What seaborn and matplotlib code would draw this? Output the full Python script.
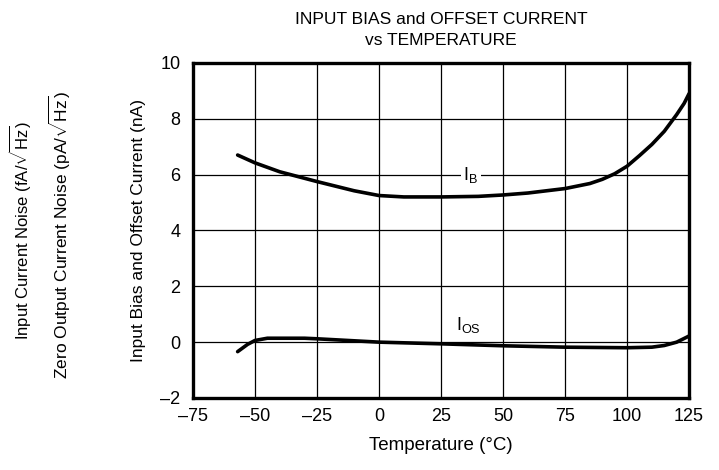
import numpy as np
import pandas as pd
import matplotlib
matplotlib.use("Agg")
import matplotlib.pyplot as plt
import seaborn as sns

# data
temp_ib = [-57, -50, -40, -25, -10, 0, 10, 25, 40, 50, 60, 75, 85, 90, 95, 100, 105, 110, 115, 120, 123, 125]
ib = [6.7, 6.42, 6.1, 5.75, 5.42, 5.25, 5.2, 5.2, 5.22, 5.27, 5.34, 5.5, 5.68, 5.83, 6.03, 6.3, 6.68, 7.08, 7.55, 8.15, 8.55, 8.9]
temp_ios = [-57, -53, -50, -45, -30, -25, 0, 25, 50, 75, 100, 110, 115, 120, 125]
ios = [-0.34, -0.08, 0.06, 0.14, 0.14, 0.12, 0.0, -0.06, -0.13, -0.18, -0.2, -0.18, -0.12, 0.0, 0.22]

xticks = [-75, -50, -25, 0, 25, 50, 75, 100, 125]
xtick_labels = ["\u201375", "\u201350", "\u201325", "0", "25", "50", "75", "100", "125"]
yticks = [-2, 0, 2, 4, 6, 8, 10]
ytick_labels = ["\u20132", "0", "2", "4", "6", "8", "10"]

sns.set_style("white")
plt.rcParams["font.family"] = ["Liberation Sans", "DejaVu Sans"]
plt.rcParams["text.color"] = "black"
plt.rcParams["axes.labelcolor"] = "black"
plt.rcParams["mathtext.fontset"] = "custom"
plt.rcParams["mathtext.rm"] = "Liberation Sans"
plt.rcParams["mathtext.it"] = "Liberation Sans:italic"

fig = plt.figure(figsize=(7.19, 4.70), dpi=100)
ax = fig.add_axes([0.2684, 0.1532, 0.69, 0.713])

df_ib = pd.DataFrame({"temp": temp_ib, "val": ib})
df_ios = pd.DataFrame({"temp": temp_ios, "val": ios})
sns.lineplot(data=df_ib, x="temp", y="val", color="black", lw=2.6, ax=ax, zorder=3)
sns.lineplot(data=df_ios, x="temp", y="val", color="black", lw=2.6, ax=ax, zorder=3)

ax.set_xlim(-75, 125)
ax.set_ylim(-2, 10)
ax.set_xticks(xticks)
ax.set_xticklabels(xtick_labels)
ax.set_yticks(yticks)
ax.set_yticklabels(ytick_labels)
ax.tick_params(length=0, labelsize=13, colors="black")
ax.tick_params(axis="x", pad=7)
ax.tick_params(axis="y", pad=9)
ax.grid(True, color="black", lw=0.9)
for s in ax.spines.values():
    s.set_visible(True)
    s.set_color("black")
    s.set_linewidth(2.4)

ax.set_xlabel("Temperature (\u00b0C)", fontsize=13.5, labelpad=9)
ax.set_ylabel("Input Bias and Offset Current (nA)", fontsize=12.5, labelpad=10)
ax.set_title("INPUT BIAS and OFFSET CURRENT\nvs TEMPERATURE", fontsize=12.5, pad=13,
             linespacing=1.45, color="black")

ax.text(37, 6.0, "I$_\\mathregular{B}$", fontsize=13, ha="center", va="center",
        bbox=dict(facecolor="white", edgecolor="none", pad=2), zorder=4)
ax.text(36, 0.6, "I$_\\mathregular{OS}$", fontsize=13, ha="center", va="center",
        bbox=dict(facecolor="white", edgecolor="none", pad=2), zorder=4)

fig.text(0.028, 0.51, "Input Current Noise (fA/$\\sqrt{\\mathregular{Hz}}$)", rotation=90,
         fontsize=12, ha="center", va="center")
fig.text(0.084, 0.50, "Zero Output Current Noise (pA/$\\sqrt{\\mathregular{Hz}}$)", rotation=90,
         fontsize=12.5, ha="center", va="center")

fig.savefig("out.png", dpi=100)
